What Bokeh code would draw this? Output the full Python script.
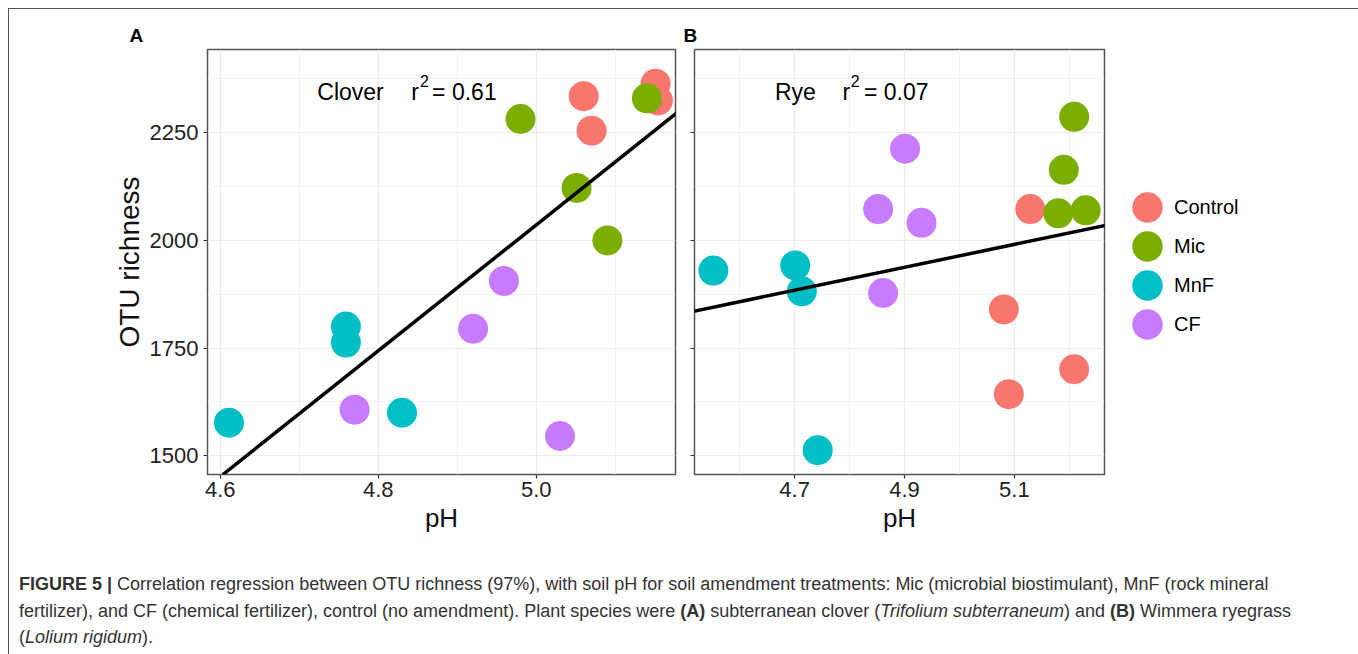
import numpy as np
from bokeh.plotting import figure
from bokeh.models import (FixedTicker, Slope, Label, Legend, LegendItem, Div,
                          ColumnDataSource, CustomJSTickFormatter, NumeralTickFormatter, Range1d)
from bokeh.layouts import row, column
from bokeh.embed import file_html
from bokeh.resources import INLINE

# ---------------- data ----------------
treatments = ["Control", "Mic", "MnF", "CF"]
colors = ["#F8766D", "#7CAE00", "#00BFC4", "#C77CFF"]

# Panel A: Clover
clover_group = ["Control"] * 4 + ["Mic"] * 4 + ["MnF"] * 4 + ["CF"] * 4
clover_ph = [5.151, 5.154, 5.060, 5.070,
             4.980, 5.140, 5.051, 5.090,
             4.611, 4.759, 4.759, 4.830,
             4.959, 4.920, 4.770, 5.030]
clover_otu = [2364, 2325, 2335, 2255,
              2282, 2330, 2122, 2000,
              1577, 1800, 1763, 1600,
              1906, 1795, 1607, 1546]

# Panel B: Rye
rye_group = ["Control"] * 4 + ["Mic"] * 4 + ["MnF"] * 4 + ["CF"] * 4
rye_ph = [5.129, 5.081, 5.090, 5.209,
          5.209, 5.190, 5.180, 5.230,
          4.552, 4.701, 4.713, 4.742,
          4.901, 4.852, 4.931, 4.861]
rye_otu = [2073, 1840, 1643, 1701,
           2287, 2164, 2063, 2070,
           1930, 1942, 1882, 1513,
           2213, 2073, 2041, 1878]

y_ticks = [1500, 1750, 2000, 2250]
y_minor = [1375, 1625, 1875, 2125, 2375]
clover_xticks = [4.6, 4.8, 5.0]
clover_xminor = [4.5, 4.7, 4.9, 5.1]
rye_xticks = [4.7, 4.9, 5.1]
rye_xminor = [4.6, 4.8, 5.0, 5.2]

clover_r2 = "0.61"
rye_r2 = "0.07"

caption_bold = "FIGURE 5 |"
caption_l1 = (" Correlation regression between OTU richness (97%), with soil pH for soil amendment "
              "treatments: Mic (microbial biostimulant), MnF (rock mineral")
caption_l2a = "fertilizer), and CF (chemical fertilizer), control (no amendment). Plant species were "
caption_l2b = " subterranean clover ("
caption_l2c = ") and "
caption_l2d = " Wimmera ryegrass"

FONT = "Liberation Sans"
H = 551


def group_sources(ph, otu, grp):
    out = {}
    for t in treatments:
        idx = [i for i, g in enumerate(grp) if g == t]
        out[t] = ColumnDataSource(dict(ph=[ph[i] for i in idx], otu=[otu[i] for i in idx]))
    return out


def make_panel(ph, otu, grp, xr, xt, xmt, width, mbl, mbr, show_ylab, tag, tag_offset):
    p = figure(width=width, height=H, x_range=Range1d(*xr), y_range=Range1d(1456.6, 2443.4),
               output_backend="svg", toolbar_location=None,
               min_border_left=mbl, min_border_right=mbr, min_border_top=40, min_border_bottom=86)
    p.background_fill_color = "white"
    p.border_fill_color = "white"
    p.outline_line_color = "#555555"
    p.outline_line_width = 1.5

    p.title.text = tag
    p.title.align = "left"
    p.title.offset = tag_offset
    p.title.standoff = 7
    p.title.text_font = FONT
    p.title.text_font_style = "bold"
    p.title.text_font_size = "19px"
    p.title.text_color = "black"

    xtick = FixedTicker(ticks=xt, minor_ticks=xmt)
    ytick = FixedTicker(ticks=y_ticks, minor_ticks=y_minor)
    p.xaxis.ticker = xtick
    p.yaxis.ticker = ytick
    p.xgrid.ticker = xtick
    p.ygrid.ticker = ytick
    for g in [p.xgrid[0], p.ygrid[0]]:
        g.grid_line_color = "#EBEBEB"
        g.grid_line_width = 1.2
        g.minor_grid_line_color = "#F0F0F0"
        g.minor_grid_line_width = 0.9
    for ax in [p.xaxis[0], p.yaxis[0]]:
        ax.axis_line_color = None
        ax.major_tick_in = 0
        ax.major_tick_out = 4
        ax.major_tick_line_color = "#333333"
        ax.major_tick_line_width = 1.2
        ax.minor_tick_line_color = None
        ax.major_label_text_font = FONT
        ax.major_label_text_font_size = "22px"
        ax.major_label_text_color = "#222222"
        ax.axis_label_text_font = FONT
        ax.axis_label_text_font_style = "normal"
        ax.axis_label_text_color = "#111111"
    p.xaxis.formatter = NumeralTickFormatter(format="0.0")
    p.xaxis.axis_label = "pH"
    p.xaxis.axis_label_text_font_size = "26px"
    p.xaxis.major_label_standoff = 3
    p.xaxis.axis_label_standoff = 3
    if show_ylab:
        p.yaxis.axis_label = "OTU richness"
        p.yaxis.axis_label_text_font_size = "28px"
        p.yaxis.major_label_standoff = 5
        p.yaxis.axis_label_standoff = 2
    else:
        p.yaxis.formatter = CustomJSTickFormatter(code="return ''")
        p.yaxis.major_label_standoff = 0

    sources = group_sources(ph, otu, grp)
    for t, c in zip(treatments, colors):
        p.ellipse(x="ph", y="otu", width=30, height=30, width_units="screen",
                  height_units="screen", fill_color=c, line_color=None, source=sources[t])

    m, b = np.polyfit(np.array(ph), np.array(otu), 1)
    p.add_layout(Slope(gradient=float(m), y_intercept=float(b), line_color="black", line_width=3.5))
    return p, sources


pA, sA = make_panel(clover_ph, clover_otu, clover_group, (4.5838, 5.1762),
                    clover_xticks, clover_xminor, 675, 198, 9, True, "A", -78)
pB, sB = make_panel(rye_ph, rye_otu, rye_group, (4.5176, 5.2642),
                    rye_xticks, rye_xminor, 425, 10, 5, False, "B", -11)


def add_title(p, x, y, name, r2, off_r, off_2, off_eq):
    common = dict(x=x, y=y, text_font=FONT, text_color="black", text_baseline="alphabetic")
    p.add_layout(Label(text=name, y_offset=8, text_font_size="23px", **common))
    p.add_layout(Label(text="r", x_offset=off_r, y_offset=8, text_font_size="23px", **common))
    p.add_layout(Label(text="2", x_offset=off_2, y_offset=19, text_font_size="16px", **common))
    p.add_layout(Label(text="= " + r2, x_offset=off_eq, y_offset=8, text_font_size="23px", **common))


add_title(pA, 4.7228, 2325, "Clover", clover_r2, 94, 102.7, 114.8)
add_title(pB, 4.6642, 2325, "Rye", rye_r2, 67.4, 75.7, 89)

# Legend panel: its own plot area, sharing the Rye data sources (points fall outside its ranges)
pL = figure(width=240, height=H, x_range=Range1d(0, 1), y_range=Range1d(0, 1),
            output_backend="svg", toolbar_location=None,
            min_border_left=0, min_border_right=0, min_border_top=0, min_border_bottom=0)
pL.axis.visible = False
pL.grid.visible = False
pL.outline_line_color = None
pL.background_fill_color = "white"
pL.border_fill_color = "white"
leg_renderers = {}
for t, c in zip(treatments, colors):
    leg_renderers[t] = pL.ellipse(x="ph", y="otu", width=30, height=30, width_units="screen",
                                  height_units="screen", fill_color=c, line_color=None,
                                  source=sB[t])

legend = Legend(items=[LegendItem(label=t, renderers=[leg_renderers[t]]) for t in treatments],
                location=(19, 131), glyph_width=38, glyph_height=38, label_standoff=8,
                spacing=1, padding=0, margin=0, border_line_color=None,
                background_fill_alpha=0, label_text_font=FONT, label_text_font_size="20px",
                label_text_color="black")
pL.add_layout(legend)

cap_html = (
    "<div style=\"font-family:'Liberation Sans',Arial,sans-serif;font-size:18px;line-height:26.5px;"
    "color:#333333;white-space:nowrap;padding:6px 0 0 5px;\">"
    f"<b>{caption_bold}</b>{caption_l1}<br>"
    f"{caption_l2a}<b>(A)</b>{caption_l2b}<i>Trifolium subterraneum</i>{caption_l2c}<b>(B)</b>{caption_l2d}<br>"
    "(<i>Lolium rigidum</i>)."
    "</div>"
)
cap = Div(text=cap_html, width=1340, height=86)

layout = column(row(pA, pB, pL), cap, margin=(8, 0, 0, 8),
                styles={"border": "1px solid #555555", "border-bottom": "none"})

open("out.html", "w").write(file_html(layout, INLINE))
